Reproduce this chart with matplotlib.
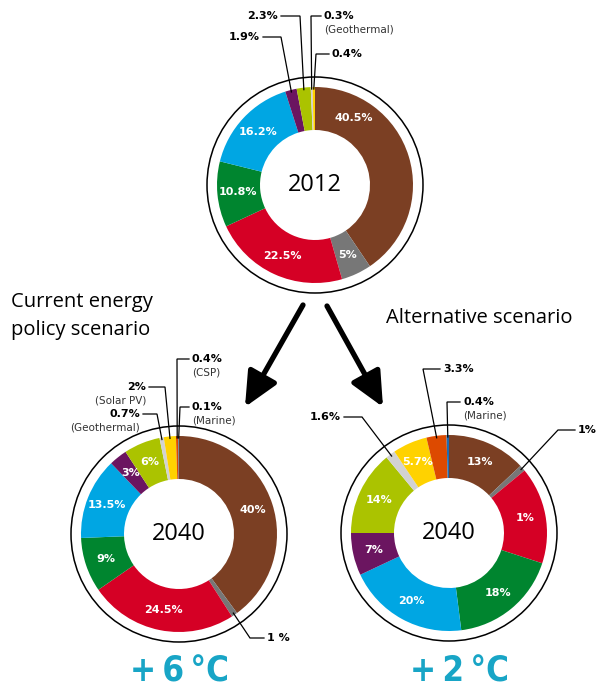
import numpy as np
import matplotlib.pyplot as plt

W, H = 599, 691

# energy sources, clockwise from 12 o'clock
sources = ['Coal', 'Nuclear', 'Gas', 'Oil', 'Hydro', 'Biomass', 'Wind',
           'Geothermal', 'Solar PV', 'CSP', 'Marine']
colors = ['#7b3f23', '#777777', '#d50025', '#00852f', '#00a6e3', '#6b1560',
          '#abc300', '#d2d2d2', '#ffd200', '#dd4a00', '#1d6db4']

share_2012 = [40.5, 5, 22.5, 10.8, 16.2, 1.9, 2.3, 0.3, 0.4]
share_2040_current = [40, 1, 24.5, 9, 13.5, 3, 6, 0.7, 2, 0.4, 0.1]
share_2040_alt = [13, 1, 16, 18, 20, 7, 14, 1.6, 5.7, 3.3, 0.4]

labels_2012 = ['40.5%', '5%', '22.5%', '10.8%', '16.2%', '', '', '', '']
labels_2040_current = ['40%', '', '24.5%', '9%', '13.5%', '3%', '6%', '', '', '', '']
labels_2040_alt = ['13%', '', '1%', '18%', '20%', '7%', '14%', '', '5.7%', '', '']

R_OUT, R_IN, R_RING = 98, 55, 108
TEAL = '#18a5c6'


def P(x, y):
    # pixel coords (from top-left) -> data coords
    return (x, H - y)


def donut(ax, vals, labels, cx, cy, year, callouts, lab_angle=None):
    lab_angle = lab_angle or {}
    c = P(cx, cy)
    wedges, _ = ax.pie(vals, colors=colors[:len(vals)], startangle=90,
                       counterclock=False, radius=R_OUT, center=c, frame=True,
                       wedgeprops=dict(width=R_OUT - R_IN, linewidth=0))
    ax.add_patch(plt.Circle(c, R_RING, fill=False, lw=1.1, ec='black'))
    ax.text(c[0], c[1], year, ha='center', va='center', fontsize=17,
            family='Open Sans')

    for i, (w, lab) in enumerate(zip(wedges, labels)):
        if not lab:
            continue
        a = np.radians(lab_angle.get(i, (w.theta1 + w.theta2) / 2))
        r = (R_OUT + R_IN) / 2 + 1
        ax.text(c[0] + r * np.cos(a), c[1] + r * np.sin(a), lab, color='white',
                ha='center', va='center', fontsize=8, fontweight='bold')

    for idx, main, sub, start, elbow, side in callouts:
        w = wedges[idx]
        a = np.radians((w.theta1 + w.theta2) / 2)
        end = (c[0] + (R_OUT - 2) * np.cos(a), c[1] + (R_OUT - 2) * np.sin(a))
        s, e = P(*start), P(*elbow)
        ax.plot([s[0], e[0], end[0]], [s[1], e[1], end[1]], color='black',
                lw=0.9, solid_joinstyle='miter')
        ha = 'left' if side == 'right' else 'right'
        dx = 3 if side == 'right' else -3
        ax.text(s[0] + dx, s[1], main, ha=ha, va='center', fontsize=8,
                fontweight='bold')
        if sub:
            ax.text(s[0] + dx, s[1] - 13, sub, ha=ha, va='center', fontsize=7.5,
                    color='#333333')


fig = plt.figure(figsize=(W / 100, H / 100), dpi=100)
ax = fig.add_axes([0, 0, 1, 1])

donut(ax, share_2012, labels_2012, 315, 185, '2012', [
    (5, '1.9%', None, (263, 37), (281, 37), 'left'),
    (6, '2.3%', None, (281, 16), (300, 16), 'left'),
    (7, '0.3%', '(Geothermal)', (321, 16), (311, 16), 'right'),
    (8, '0.4%', None, (329, 54), (316, 54), 'right'),
], lab_angle={0: 60})

donut(ax, share_2040_current, labels_2040_current, 179, 534, '2040', [
    (10, '0.1%', '(Marine)', (189, 407), (180, 407), 'right'),
    (9, '0.4%', '(CSP)', (189, 359), (177, 359), 'right'),
    (8, '2%', '(Solar PV)', (149, 387), (165, 387), 'left'),
    (7, '0.7%', '(Geothermal)', (143, 414), (157, 414), 'left'),
    (1, '1 %', None, (264, 638), (250, 638), 'right'),
])

donut(ax, share_2040_alt, labels_2040_alt, 449, 533, '2040', [
    (9, '3.3%', None, (440, 369), (423, 369), 'right'),
    (10, '0.4%', '(Marine)', (460, 402), (447, 402), 'right'),
    (7, '1.6%', None, (344, 417), (362, 417), 'left'),
    (1, '1%', None, (575, 430), (558, 430), 'right'),
])

# scenario arrows
arrow = dict(arrowstyle='-|>,head_length=1.5,head_width=0.7', lw=3.8,
             color='black', shrinkA=0, shrinkB=0, mutation_scale=14)
ax.annotate('', xy=P(245, 407), xytext=P(303, 305), arrowprops=arrow)
ax.annotate('', xy=P(383, 407), xytext=P(327, 306), arrowprops=arrow)

title_kw = dict(fontsize=14.5, family='Open Sans', va='center', ha='left')
ax.text(*P(11, 302), 'Current energy', **title_kw)
ax.text(*P(11, 330), 'policy scenario', **title_kw)
ax.text(*P(386, 318), 'Alternative scenario', **title_kw)

temp_kw = dict(fontsize=25, fontweight='bold', color=TEAL, ha='center',
               va='center', family='DejaVu Sans', fontstretch='condensed')
ax.text(*P(179, 671), '+\u20096\u2009°C', **temp_kw)
ax.text(*P(459, 671), '+\u20092\u2009°C', **temp_kw)

ax.set_xlim(0, W)
ax.set_ylim(0, H)
ax.set_aspect('equal')
ax.set_axis_off()

fig.savefig('out.png', dpi=100)
